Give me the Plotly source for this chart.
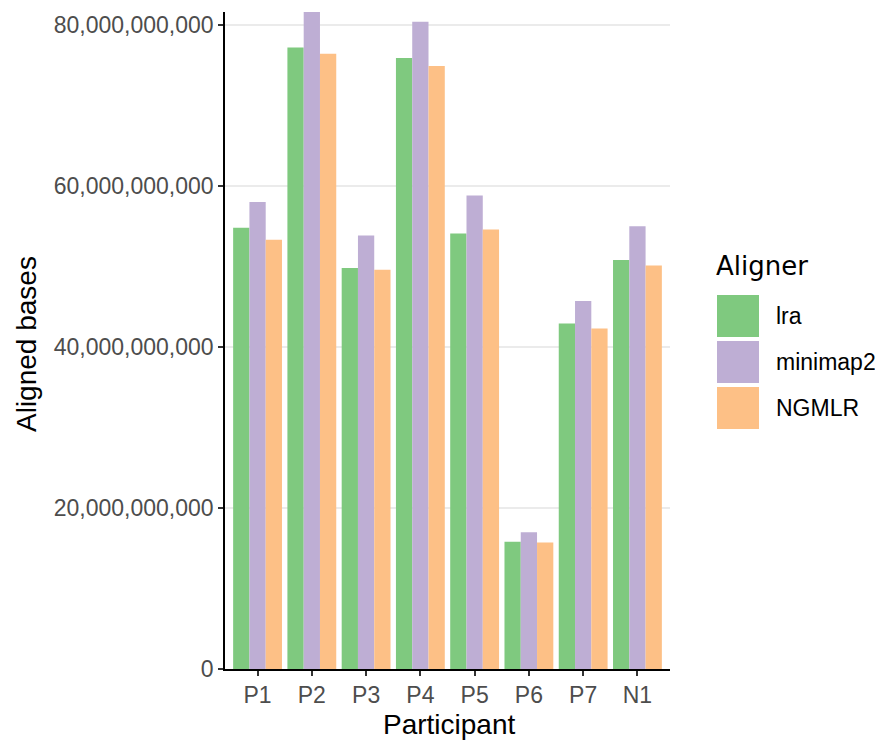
import plotly.graph_objects as go

participants = ["P1", "P2", "P3", "P4", "P5", "P6", "P7", "N1"]
lra = [54.8e9, 77.2e9, 49.8e9, 75.9e9, 54.1e9, 15.8e9, 42.9e9, 50.8e9]
minimap2 = [58.0e9, 81.6e9, 53.85e9, 80.4e9, 58.8e9, 17.0e9, 45.7e9, 55.0e9]
ngmlr = [53.3e9, 76.4e9, 49.6e9, 74.9e9, 54.6e9, 15.7e9, 42.3e9, 50.1e9]
aligners = ["lra", "minimap2", "NGMLR"]
colors = ["#7FC97F", "#BEAED4", "#FDC086"]
y_ticks = [0, 20e9, 40e9, 60e9, 80e9]
y_ticktext = ["0", "20,000,000,000", "40,000,000,000", "60,000,000,000", "80,000,000,000"]

OFF = 8  # page body margin
W, H = 883 - OFF, 742 - OFF
L, R, T, B = 225 - OFF, 670 - OFF, 12 - OFF, 669 - OFF  # plot area in figure px
FONT = "Liberation Sans, Arial, Helvetica, sans-serif"
FONT_T = "DejaVu Sans, sans-serif"

def px2x(px):
    # px given in screen coords of the reference
    return (px - OFF - L) / (R - L)

def px2y(py):
    return (B - (py - OFF)) / (B - T)

fig = go.Figure()
for name, vals, col in zip(aligners, [lra, minimap2, ngmlr], colors):
    fig.add_trace(go.Bar(x=participants, y=vals, name=name,
                         marker=dict(color=col, line=dict(width=0)),
                         showlegend=False))

shapes = []
annotations = []
# manual legend
annotations.append(dict(text="Aligner", x=px2x(714), y=px2y(266), xref="paper", yref="paper",
                        xanchor="left", yanchor="middle", showarrow=False,
                        font=dict(family=FONT_T, size=26, color="black")))
key_tops = [295, 341, 387]
for name, col, kt in zip(aligners, colors, key_tops):
    shapes.append(dict(type="rect", xref="paper", yref="paper",
                       x0=px2x(717), x1=px2x(759), y0=px2y(kt + 42), y1=px2y(kt),
                       fillcolor=col, line=dict(width=0), layer="above"))
    annotations.append(dict(text=name, x=px2x(774), y=px2y(kt + 21), xref="paper", yref="paper",
                            xanchor="left", yanchor="middle", showarrow=False,
                            font=dict(family=FONT, size=23, color="black")))
# axis titles
annotations.append(dict(text="Participant", x=px2x(449), y=px2y(724.5), xref="paper", yref="paper",
                        xanchor="center", yanchor="middle", showarrow=False,
                        font=dict(family=FONT, size=28, color="black")))
annotations.append(dict(text="Aligned bases", x=px2x(26), y=px2y(344), xref="paper", yref="paper",
                        xanchor="center", yanchor="middle", showarrow=False, textangle=-90,
                        font=dict(family=FONT, size=28, color="black")))

fig.update_layout(
    width=W, height=H,
    margin=dict(l=L, r=W - R, t=T, b=H - B, pad=0),
    plot_bgcolor="white", paper_bgcolor="white",
    barmode="group", bargap=0.1, bargroupgap=0,
    font=dict(family=FONT, color="#4D4D4D"),
    shapes=shapes, annotations=annotations,
    showlegend=False,
)
fig.update_xaxes(range=[-0.6, 7.6], showline=True, linecolor="black", linewidth=1.6,
                 ticks="outside", ticklen=5, tickwidth=1.5, tickcolor="#333333",
                 tickfont=dict(family=FONT, size=23, color="#4D4D4D"),
                 showgrid=False, zeroline=False)
fig.update_yaxes(range=[0, 81.6e9], showline=True, linecolor="black", linewidth=1.6,
                 ticks="outside", ticklen=5, tickwidth=1.5, tickcolor="#333333",
                 tickvals=y_ticks, ticktext=y_ticktext,
                 tickfont=dict(family=FONT, size=23, color="#4D4D4D"),
                 showgrid=True, gridcolor="#EBEBEB", gridwidth=1.6, zeroline=False)

fig.write_html("out.html")
